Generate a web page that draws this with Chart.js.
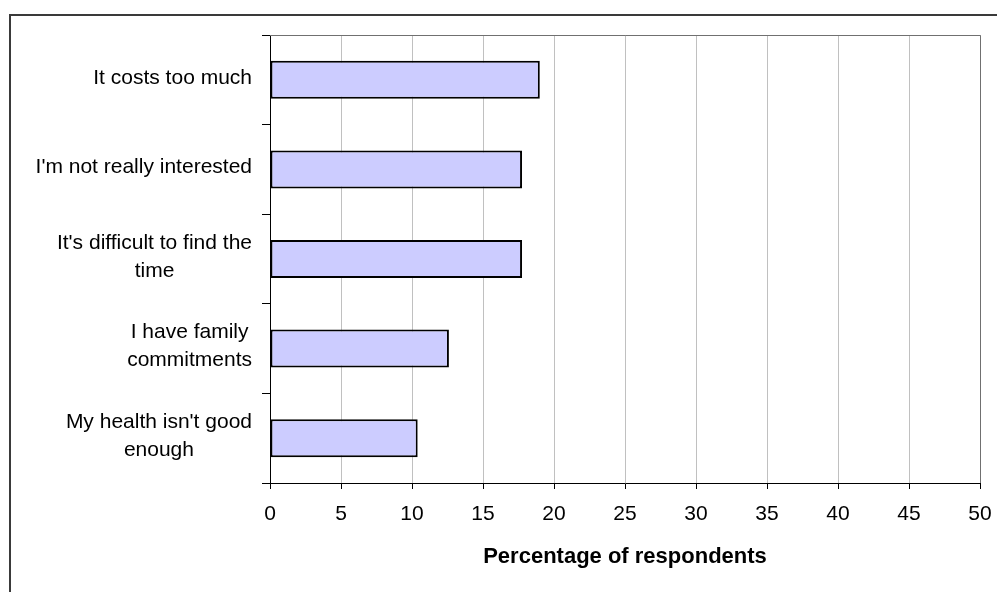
<!DOCTYPE html>
<html><head><meta charset="utf-8">
<script src="https://cdn.jsdelivr.net/npm/chart.js@4.4.0/dist/chart.umd.min.js"></script>
<style>html,body{margin:0;padding:0;background:#fff;overflow:hidden}#wrap{width:997px;height:592px;position:relative}</style>
</head><body><div id="wrap"><canvas id="c" width="997" height="592"></canvas></div>
<script>
const categories = [
  ["It costs too much"],
  ["I'm not really interested"],
  ["It's difficult to find the", "time"],
  ["I have family", "commitments"],
  ["My health isn't good", "enough"]
];
const values = [19.0, 17.75, 17.75, 12.6, 10.4];
const xTickValues = [0, 5, 10, 15, 20, 25, 30, 35, 40, 45, 50];
const axisTitle = "Percentage of respondents";

const FONT = '"Liberation Sans", Arial, sans-serif';

const framePlugin = {
  id: 'frame',
  beforeDraw(chart) {
    const ctx = chart.ctx;
    ctx.save();
    ctx.fillStyle = '#fff';
    ctx.fillRect(0, 0, chart.width, chart.height);
    ctx.strokeStyle = '#3a3a3a';
    ctx.lineWidth = 2;
    ctx.beginPath();
    ctx.moveTo(10, chart.height + 5);
    ctx.lineTo(10, 15);
    ctx.lineTo(chart.width + 5, 15);
    ctx.stroke();
    ctx.restore();
  },
  afterDatasetsDraw(chart) {
    const a = chart.chartArea;
    const ctx = chart.ctx;
    ctx.save();
    ctx.strokeStyle = '#707070';
    ctx.lineWidth = 1;
    ctx.beginPath();
    ctx.moveTo(a.left, a.top + 0.5);
    ctx.lineTo(a.right + 0.5, a.top + 0.5);
    ctx.lineTo(a.right + 0.5, a.bottom);
    ctx.stroke();
    ctx.restore();
  },
  afterDraw(chart) {
    const s = chart.scales.y;
    const ctx = chart.ctx;
    ctx.save();
    ctx.font = '21px ' + FONT;
    ctx.fillStyle = '#000';
    ctx.textAlign = 'center';
    ctx.textBaseline = 'middle';
    const right = s.right - 18;
    categories.forEach((lines, i) => {
      const y = s.getPixelForTick(i) - 2;
      const w = Math.max(...lines.map(l => ctx.measureText(l).width));
      const cx = right - w / 2;
      lines.forEach((l, j) => {
        ctx.fillText(l, cx, y + (j - (lines.length - 1) / 2) * 28);
      });
    });
    ctx.restore();
  }
};

new Chart(document.getElementById('c'), {
  type: 'bar',
  data: {
    labels: categories,
    datasets: [{
      data: values,
      backgroundColor: '#CCCCFF',
      borderColor: '#000',
      borderWidth: 2,
      borderSkipped: false,
      categoryPercentage: 1,
      barPercentage: 0.424
    }]
  },
  options: {
    indexAxis: 'y',
    responsive: false,
    animation: false,
    devicePixelRatio: 1,
    layout: { padding: { top: 35, right: 17, bottom: 0, left: 0 } },
    plugins: { legend: { display: false }, tooltip: { enabled: false }, title: { display: false } },
    scales: {
      x: {
        type: 'linear',
        min: 0, max: 50,
        afterBuildTicks(scale) { scale.ticks = xTickValues.map(v => ({ value: v })); },
        afterFit(scale) { scale.height = 109; scale.paddingLeft = 0; scale.paddingRight = 0; },
        grid: { color: '#c0c0c0', lineWidth: 1, tickColor: '#000', tickLength: 6, drawTicks: true },
        border: { color: '#000', width: 1 },
        ticks: { color: '#000', font: { family: FONT, size: 21 }, padding: 13, maxRotation: 0 },
        title: { display: true, text: axisTitle, color: '#000', font: { family: FONT, size: 22, weight: 'bold' }, padding: { top: 0, bottom: 22 } }
      },
      y: {
        type: 'category',
        afterFit(scale) { scale.width = 270; scale.paddingTop = 0; scale.paddingBottom = 0; },
        grid: { drawOnChartArea: false, drawTicks: true, tickLength: 8, tickColor: '#000', offset: true },
        border: { color: '#000', width: 1 },
        ticks: { color: 'rgba(0,0,0,0)', font: { family: FONT, size: 21 } }
      }
    }
  },
  plugins: [framePlugin]
});
</script></body></html>
